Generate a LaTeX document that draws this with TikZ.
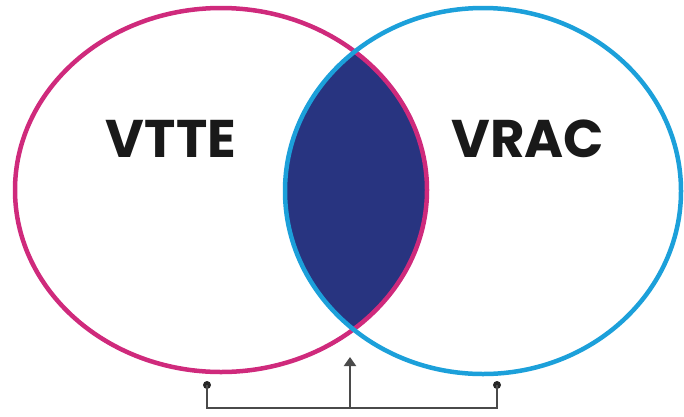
\documentclass[tikz,border=0pt]{standalone}
\usepackage{fontspec}
\newfontfamily\labelfont{Poppins}
\usetikzlibrary{arrows.meta}
\definecolor{magentaC}{HTML}{CF2A7C}
\definecolor{blueC}{HTML}{1CA0DA}
\definecolor{navyC}{HTML}{283480}
\definecolor{lineC}{HTML}{4A4A4A}
\tikzset{
  setlabel/.style={font=\labelfont\bfseries\fontsize{53}{53}\selectfont, text=black!90, inner sep=0pt},
  bracket/.style={draw=lineC, line width=2pt},
  enddot/.style={circle, fill=black!85, inner sep=0pt, minimum size=8pt}
}
\begin{document}
\begin{tikzpicture}[x=1pt,y=-1pt]
\useasboundingbox (0,0) rectangle (684,416);
% lens
\begin{scope}
  \clip (221,190) ellipse [x radius=206, y radius=182];
  \fill[navyC] (483,191) ellipse [x radius=198, y radius=183];
\end{scope}
\draw[magentaC, line width=4.5pt] (221,190) ellipse [x radius=206, y radius=182];
\draw[blueC, line width=4.5pt] (483,191) ellipse [x radius=198, y radius=183];
% labels
\node[setlabel] (vtte) at (171,139) {VTTE};
\node[setlabel] (vrac) at (528,139) {VRAC};
% bracket
\node[enddot] (dl) at (207,385) {};
\node[enddot] (dr) at (497,385) {};
\coordinate (bl) at (207,408);
\coordinate (br) at (497,408);
\coordinate (bm) at (350,408);
\coordinate (tip) at (350,357);
\draw[bracket] (dl.center) -- (bl) -- (br) -- (dr.center);
\draw[bracket, -{Triangle[length=9pt,width=12pt]}] (bm) -- (tip);
\end{tikzpicture}
\end{document}
